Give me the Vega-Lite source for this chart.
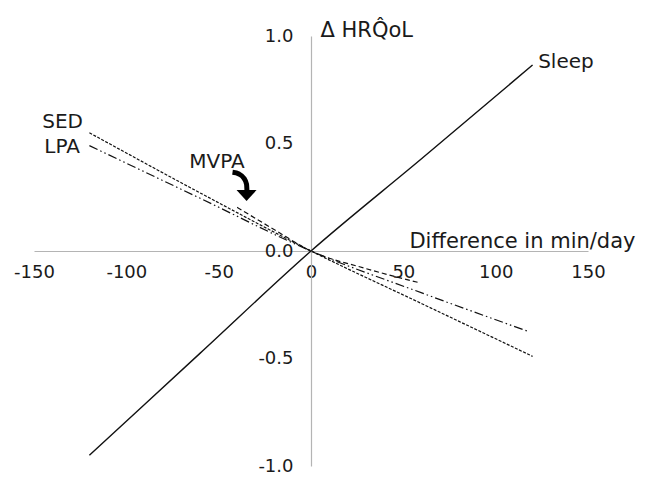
{
  "$schema": "https://vega.github.io/schema/vega-lite/v6.json",
  "width": 554,
  "height": 430,
  "autosize": {"type": "none"},
  "padding": {"left": 34, "top": 36, "right": 63, "bottom": 13},
  "background": "white",
  "config": {
    "view": {"stroke": null},
    "font": "DejaVu Sans",
    "text": {"font": "DejaVu Sans", "fontSize": 20, "color": "#1a1a1a"}
  },
  "datasets": {
    "curves": [
      {"series": "Sleep", "minutes": -120, "delta": -0.95},
      {"series": "Sleep", "minutes": -60, "delta": -0.475},
      {"series": "Sleep", "minutes": 0, "delta": 0},
      {"series": "Sleep", "minutes": 60, "delta": 0.43},
      {"series": "Sleep", "minutes": 120, "delta": 0.865},
      {"series": "SED", "minutes": -120, "delta": 0.55},
      {"series": "SED", "minutes": -60, "delta": 0.27},
      {"series": "SED", "minutes": 0, "delta": 0},
      {"series": "SED", "minutes": 60, "delta": -0.245},
      {"series": "SED", "minutes": 120, "delta": -0.49},
      {"series": "LPA", "minutes": -120, "delta": 0.49},
      {"series": "LPA", "minutes": -60, "delta": 0.245},
      {"series": "LPA", "minutes": 0, "delta": 0},
      {"series": "LPA", "minutes": 60, "delta": -0.195},
      {"series": "LPA", "minutes": 118, "delta": -0.375},
      {"series": "MVPA", "minutes": -40, "delta": 0.203},
      {"series": "MVPA", "minutes": -20, "delta": 0.1},
      {"series": "MVPA", "minutes": 0, "delta": 0},
      {"series": "MVPA", "minutes": 29, "delta": -0.08},
      {"series": "MVPA", "minutes": 58, "delta": -0.146}
    ],
    "arrow": [
      {"minutes": -42.5, "delta": 0.366},
      {"minutes": -39, "delta": 0.358},
      {"minutes": -36.3, "delta": 0.338},
      {"minutes": -34.9, "delta": 0.31},
      {"minutes": -34.7, "delta": 0.282}
    ],
    "arrowhead": [
      {"minutes": -34.9, "delta": 0.258}
    ],
    "labels": [
      {"label": "SED", "minutes": -123.5, "delta": 0.6, "side": "left"},
      {"label": "LPA", "minutes": -125.1, "delta": 0.484, "side": "left"},
      {"label": "Sleep", "minutes": 123, "delta": 0.879, "side": "right"},
      {"label": "MVPA", "minutes": -50.9, "delta": 0.414, "side": "center"}
    ]
  },
  "encoding": {
    "x": {
      "field": "minutes",
      "type": "quantitative",
      "scale": {"domain": [-150, 150], "nice": false, "zero": false},
      "axis": {
        "orient": "bottom",
        "offset": -215,
        "values": [-150, -100, -50, 0, 50, 100, 150],
        "labelExpr": "replace(format(datum.value, 'd'), '−', '-')",
        "ticks": false,
        "grid": false,
        "domainColor": "#b4b4b4",
        "domainWidth": 1.2,
        "labelFontSize": 18,
        "labelColor": "#1a1a1a",
        "labelPadding": 12,
        "labelFlush": false,
        "labelOverlap": false,
        "title": "Difference in min/day",
        "titleFontSize": 21,
        "titleFontWeight": "normal",
        "titleColor": "#1a1a1a",
        "titleAnchor": "end",
        "titleAlign": "right",
        "titleBaseline": "alphabetic",
        "titleX": 601,
        "titleY": -4
      }
    },
    "y": {
      "field": "delta",
      "type": "quantitative",
      "scale": {"domain": [-1, 1], "nice": false, "zero": false},
      "axis": {
        "orient": "left",
        "offset": -277,
        "values": [-1, -0.5, 0, 0.5, 1],
        "labelExpr": "replace(format(datum.value, '.1f'), '−', '-')",
        "ticks": false,
        "grid": false,
        "domainColor": "#b4b4b4",
        "domainWidth": 1.2,
        "labelFontSize": 18,
        "labelColor": "#1a1a1a",
        "labelPadding": 18,
        "labelFlush": false,
        "labelOverlap": false,
        "title": "Δ HRQ̂oL",
        "titleFontSize": 21,
        "titleFontWeight": "normal",
        "titleColor": "#1a1a1a",
        "titleAngle": 0,
        "titleAlign": "left",
        "titleBaseline": "alphabetic",
        "titleX": 9,
        "titleY": 0
      }
    }
  },
  "layer": [
    {
      "data": {"name": "curves"},
      "transform": [{"filter": "datum.series === 'Sleep'"}],
      "mark": {"type": "line", "color": "#111111", "strokeWidth": 1.4, "interpolate": "monotone"}
    },
    {
      "data": {"name": "curves"},
      "transform": [{"filter": "datum.series === 'SED'"}],
      "mark": {"type": "line", "color": "#111111", "strokeWidth": 1.2, "strokeDash": [3, 1.5], "interpolate": "monotone"}
    },
    {
      "data": {"name": "curves"},
      "transform": [{"filter": "datum.series === 'LPA'"}],
      "mark": {"type": "line", "color": "#111111", "strokeWidth": 1.2, "strokeDash": [9, 3, 1.5, 3, 1.5, 3], "interpolate": "monotone"}
    },
    {
      "data": {"name": "curves"},
      "transform": [{"filter": "datum.series === 'MVPA'"}],
      "mark": {"type": "line", "color": "#111111", "strokeWidth": 1.2, "strokeDash": [5, 3], "interpolate": "monotone"}
    },
    {
      "data": {"name": "arrow"},
      "mark": {"type": "line", "color": "#000000", "strokeWidth": 5, "strokeCap": "butt", "interpolate": "monotone"}
    },
    {
      "data": {"name": "arrowhead"},
      "mark": {"type": "point", "shape": "M-1,-0.55L1,-0.55L0,0.55Z", "size": 400, "filled": true, "color": "#000000", "opacity": 1}
    },
    {
      "data": {"name": "labels"},
      "transform": [{"filter": "datum.side === 'left'"}],
      "mark": {"type": "text", "align": "right", "baseline": "middle"},
      "encoding": {"text": {"field": "label"}}
    },
    {
      "data": {"name": "labels"},
      "transform": [{"filter": "datum.side === 'right'"}],
      "mark": {"type": "text", "align": "left", "baseline": "middle"},
      "encoding": {"text": {"field": "label"}}
    },
    {
      "data": {"name": "labels"},
      "transform": [{"filter": "datum.side === 'center'"}],
      "mark": {"type": "text", "align": "center", "baseline": "middle"},
      "encoding": {"text": {"field": "label"}}
    }
  ]
}
